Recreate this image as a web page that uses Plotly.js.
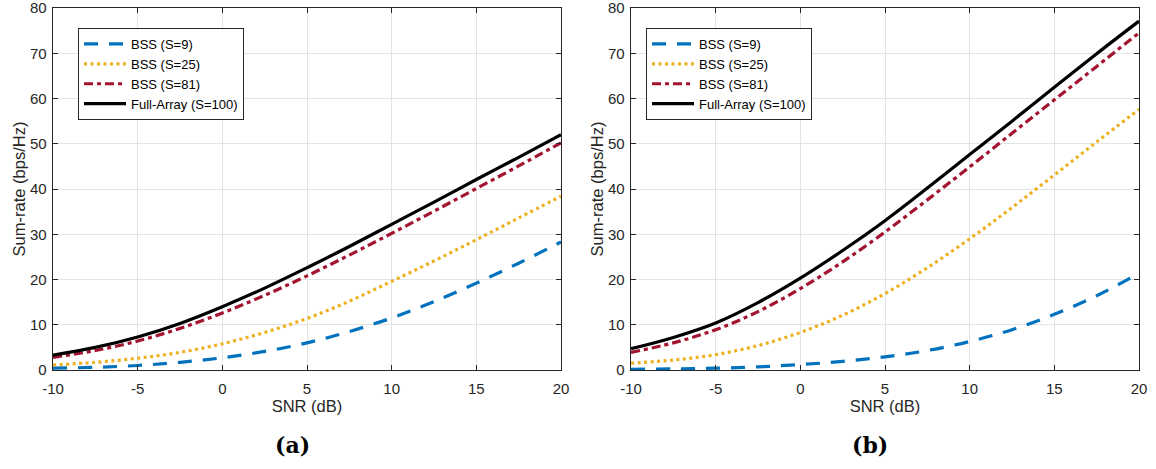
<!DOCTYPE html>
<html>
<head>
<meta charset="utf-8">
<script src="https://cdn.plot.ly/plotly-3.0.1.min.js"></script>
<style>html,body{margin:0;padding:0;background:#fff;}#chart{width:1156px;height:469px;}</style>
</head>
<body>
<div id="chart"></div>
<script>
// SNR (dB) grid
const snr = [-10, -7.5, -5, -2.5, 0, 2.5, 5, 7.5, 10, 12.5, 15, 17.5, 20];

// Panel (a)
const a_bss9   = [0.4, 0.6, 1.0, 1.7, 2.7, 4.1, 6.0, 8.5, 11.5, 15.1, 19.2, 23.6, 28.3];
const a_bss25  = [1.1, 1.7, 2.6, 3.9, 5.8, 8.3, 11.4, 15.2, 19.6, 24.1, 28.8, 33.6, 38.4];
const a_bss81  = [2.8, 4.3, 6.4, 9.2, 12.6, 16.5, 20.8, 25.4, 30.2, 35.1, 40.1, 45.1, 50.2];
const a_full   = [3.3, 5.0, 7.3, 10.3, 14.0, 18.1, 22.6, 27.3, 32.2, 37.1, 42.1, 47.0, 52.0];

// Panel (b)
const b_bss9   = [0.15, 0.25, 0.4, 0.7, 1.2, 1.9, 2.9, 4.3, 6.3, 8.9, 12.3, 16.4, 21.4];
const b_bss25  = [1.5, 2.2, 3.4, 5.4, 8.3, 12.1, 16.9, 22.6, 29.0, 35.9, 43.1, 50.4, 57.6];
const b_bss81  = [3.9, 6.0, 8.9, 12.9, 18.0, 23.9, 30.5, 37.6, 44.9, 52.3, 59.7, 67.1, 74.5];
const b_full   = [4.7, 7.2, 10.4, 14.9, 20.3, 26.4, 33.0, 40.2, 47.6, 55.0, 62.5, 69.9, 77.1];

const names = ['BSS (S=9)', 'BSS (S=25)', 'BSS (S=81)', 'Full-Array (S=100)'];
const xTicks = [-10, -5, 0, 5, 10, 15, 20];
const yTicks = [0, 10, 20, 30, 40, 50, 60, 70, 80];

const styles = [
  {color: '#0072BD', width: 3.2, dash: '14px,11px'},
  {color: '#EDB120', width: 3.2, dash: '3px,3.5px'},
  {color: '#A2142F', width: 3.2, dash: '9px,4px,4px,4px'},
  {color: '#000000', width: 3.2, dash: 'solid'}
];

function mk(ys, i, xa, ya, leg) {
  return {
    x: snr, y: ys, type: 'scatter', mode: 'lines', name: names[i],
    line: Object.assign({shape: 'spline', smoothing: 1}, styles[i]),
    xaxis: xa, yaxis: ya, legend: leg, hoverinfo: 'skip'
  };
}

const data = [
  mk(a_bss9, 0, 'x', 'y', 'legend'),
  mk(a_bss25, 1, 'x', 'y', 'legend'),
  mk(a_bss81, 2, 'x', 'y', 'legend'),
  mk(a_full, 3, 'x', 'y', 'legend'),
  mk(b_bss9, 0, 'x2', 'y2', 'legend2'),
  mk(b_bss25, 1, 'x2', 'y2', 'legend2'),
  mk(b_bss81, 2, 'x2', 'y2', 'legend2'),
  mk(b_full, 3, 'x2', 'y2', 'legend2')
];

const axCol = '#262626';
const tickFont = {family: 'Liberation Sans, Arial, sans-serif', size: 15, color: axCol};
const titleFont = {family: 'Liberation Sans, Arial, sans-serif', size: 16.5, color: axCol};

function xAxis(domain, anchor) {
  return {
    domain: domain, anchor: anchor, range: [-10, 20], tickvals: xTicks, ticktext: xTicks.map(String),
    showgrid: true, gridcolor: '#e3e3e3', gridwidth: 1, zeroline: false,
    showline: true, linecolor: axCol, linewidth: 1.3, mirror: 'ticks',
    ticks: 'inside', ticklen: 5, tickcolor: axCol, tickfont: tickFont, ticklabeloverflow: 'allow',
    ticklabelstandoff: 5,
    title: {text: 'SNR (dB)', font: titleFont, standoff: 4}
  };
}
function yAxis(domain, anchor) {
  return {
    domain: domain, anchor: anchor, range: [0, 80.001], tickvals: yTicks, ticktext: yTicks.map(String),
    showgrid: true, gridcolor: '#e3e3e3', gridwidth: 1, zeroline: false,
    showline: true, linecolor: axCol, linewidth: 1.3, mirror: 'ticks',
    ticks: 'inside', ticklen: 5, tickcolor: axCol, tickfont: tickFont, ticklabeloverflow: 'allow',
    ticklabelstandoff: 2,
    title: {text: 'Sum-rate (bps/Hz)', font: titleFont, standoff: 0}
  };
}

const W = 1156, H = 469;
const yDom = [1 - 370 / H, 1 - 8 / H];
const legFont = {family: 'Liberation Sans, Arial, sans-serif', size: 13, color: '#000'};
function legend(xpx) {
  return {
    x: xpx / W, y: 1 - 28 / H, xanchor: 'left', yanchor: 'top',
    bgcolor: '#ffffff', bordercolor: axCol, borderwidth: 1,
    font: legFont, tracegroupgap: 0, itemwidth: 42
  };
}

const layout = {
  width: W, height: H,
  margin: {l: 0, r: 0, t: 0, b: 0},
  paper_bgcolor: '#ffffff', plot_bgcolor: '#ffffff',
  showlegend: true,
  xaxis: xAxis([53 / W, 561 / W], 'y'),
  yaxis: yAxis(yDom, 'x'),
  xaxis2: xAxis([631 / W, 1139 / W], 'y2'),
  yaxis2: yAxis(yDom, 'x2'),
  legend: legend(78),
  legend2: legend(646),
  annotations: [
    {text: '<b>(a)</b>', x: 292 / W, y: 1 - 445 / H, xref: 'paper', yref: 'paper', xanchor: 'center', yanchor: 'middle', showarrow: false,
     font: {family: 'DejaVu Serif, Liberation Serif, serif', size: 22, color: '#000'}},
    {text: '<b>(b)</b>', x: 870 / W, y: 1 - 445 / H, xref: 'paper', yref: 'paper', xanchor: 'center', yanchor: 'middle', showarrow: false,
     font: {family: 'DejaVu Serif, Liberation Serif, serif', size: 22, color: '#000'}}
  ]
};

Plotly.newPlot('chart', data, layout, {displayModeBar: false, staticPlot: true});
</script>
</body>
</html>
